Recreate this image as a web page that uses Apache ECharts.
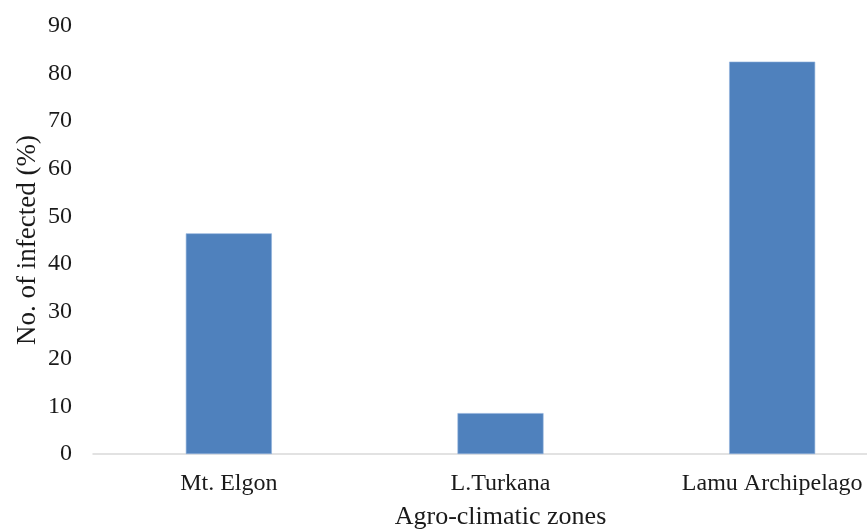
<!DOCTYPE html>
<html>
<head>
<meta charset="utf-8">
<script src="https://cdn.jsdelivr.net/npm/echarts@6/dist/echarts.min.js"></script>
<style>
  html, body { margin: 0; padding: 0; background: #fff; }
  #chart { width: 867px; height: 530px; }
</style>
</head>
<body>
<div id="chart"></div>
<script>
// Infection rate by agro-climatic zone
const zones = ['Mt. Elgon', 'L.Turkana', 'Lamu Archipelago'];
const infectedPct = [46.4, 8.6, 82.5];
const yTicks = { min: 0, max: 90, interval: 10 };

const chart = echarts.init(document.getElementById('chart'), null, { renderer: 'canvas' });
const serif = '"Liberation Serif", "Times New Roman", serif';

chart.setOption({
  animation: false,
  backgroundColor: '#ffffff',
  grid: { left: 93, top: 26, width: 815, height: 428, outerBoundsMode: 'none', containLabel: false },
  xAxis: {
    type: 'category',
    data: zones,
    name: 'Agro-climatic zones',
    nameLocation: 'middle',
    nameGap: 50,
    nameMoveOverlap: false,
    nameTextStyle: { fontFamily: serif, fontSize: 26, color: '#1a1a1a' },
    axisLine: { lineStyle: { color: '#d9d9d9', width: 1.5 } },
    axisTick: { show: false },
    axisLabel: { fontFamily: serif, fontSize: 24, color: '#1a1a1a', margin: 18 }
  },
  yAxis: {
    type: 'value',
    min: yTicks.min,
    max: yTicks.max,
    interval: yTicks.interval,
    name: 'No. of infected (%)',
    nameLocation: 'middle',
    nameGap: 52,
    nameMoveOverlap: false,
    nameRotate: 90,
    nameTextStyle: { fontFamily: serif, fontSize: 27, color: '#1a1a1a' },
    axisLine: { show: false },
    axisTick: { show: false },
    splitLine: { show: false },
    axisLabel: { fontFamily: serif, fontSize: 24, color: '#1a1a1a', margin: 21 }
  },
  series: [{
    type: 'bar',
    data: infectedPct,
    barWidth: 86,
    itemStyle: { color: '#4f81bd', borderColor: '#8eb0dc', borderWidth: 0.6 }
  }]
});
</script>
</body>
</html>
